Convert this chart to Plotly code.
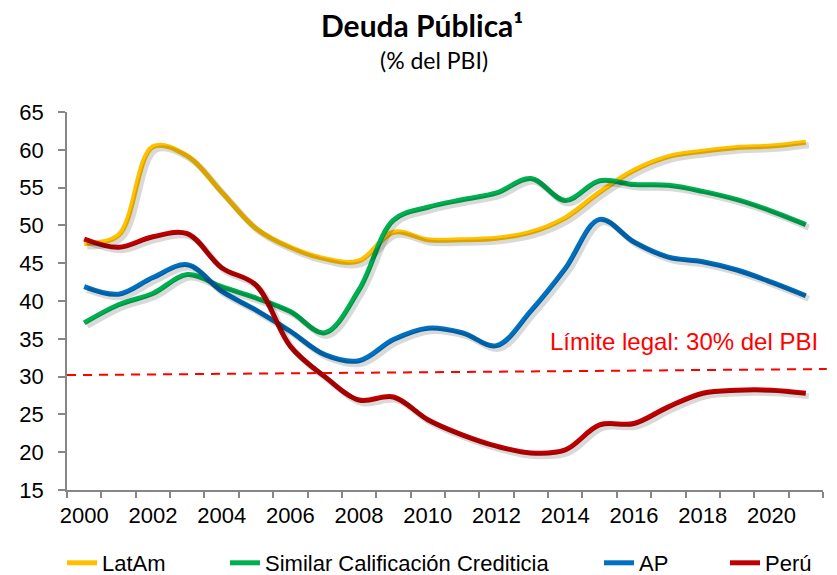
import plotly.graph_objects as go

years = list(range(2000, 2022))
latam = [47.6, 48.7, 60.4, 59.2, 54.4, 49.6, 47.1, 45.6, 45.3, 49.1, 48.1, 48.1, 48.3, 49.1, 51.0, 54.4, 57.3, 59.1, 59.8, 60.3, 60.5, 61.0]
similar = [37.1, 39.5, 41.0, 43.5, 41.9, 40.4, 38.6, 35.8, 41.5, 50.7, 52.4, 53.4, 54.3, 56.2, 53.3, 55.9, 55.4, 55.3, 54.5, 53.4, 51.9, 50.1]
ap = [41.9, 40.9, 43.1, 44.8, 41.3, 38.8, 36.0, 32.9, 32.1, 34.9, 36.4, 35.8, 34.1, 38.7, 44.3, 50.8, 47.8, 45.8, 45.2, 44.1, 42.5, 40.7]
peru = [48.2, 47.1, 48.5, 48.9, 44.4, 42.1, 34.0, 30.0, 26.9, 27.3, 24.3, 22.3, 20.8, 19.9, 20.3, 23.6, 23.8, 26.0, 27.8, 28.2, 28.2, 27.8]

series_names = ["LatAm", "Similar Calificación Crediticia", "AP", "Perú"]
series_values = [latam, similar, ap, peru]
series_colors = ["#FFC000", "#00B050", "#0070C0", "#C00000"]

limit_start, limit_end = 30.2, 31.0
limit_label = "Límite legal: 30% del PBI"
x_ticks = list(range(2000, 2021, 2))
y_ticks = list(range(15, 66, 5))

FONT = "Liberation Sans, Arial, sans-serif"
W, H = 829, 567  # page body adds an 8px offset

fig = go.Figure()

# soft shadows on an offset overlay axis pair
for vals in series_values:
    fig.add_trace(go.Scatter(x=years, y=vals, mode="lines", xaxis="x2", yaxis="y2",
                             line=dict(color="rgba(0,0,0,0.15)", width=6, shape="spline", smoothing=1.0),
                             showlegend=False, hoverinfo="skip"))

legend_ids = ["legend", "legend2", "legend3", "legend4"]
for name, vals, col, lg in zip(series_names, series_values, series_colors, legend_ids):
    fig.add_trace(go.Scatter(x=years, y=vals, mode="lines", name=name, legend=lg,
                             line=dict(color=col, width=5, shape="spline", smoothing=1.0)))

fig.add_shape(type="line", xref="paper", yref="y", x0=0, x1=1.005, y0=limit_start, y1=limit_end,
              line=dict(color="#FF0000", width=2, dash="9px,7px"))

fig.add_annotation(text=limit_label, xref="paper", yref="y", x=0.996, y=34.6,
                   xanchor="right", yanchor="middle", showarrow=False,
                   font=dict(family=FONT, size=24, color="#FF0000"))

fig.add_annotation(text="<b>Deuda Pública¹</b>", xref="paper", yref="paper",
                   x=0.469, xanchor="center", y=1.0, yanchor="middle", yshift=87, showarrow=False,
                   font=dict(family="Lato, sans-serif", size=30, color="#000000"))
fig.add_annotation(text="(% del PBI)", xref="paper", yref="paper",
                   x=0.486, xanchor="center", y=1.0, yanchor="middle", yshift=52, showarrow=False,
                   font=dict(family="Lato, sans-serif", size=23, color="#000000"))

xr = [1999.5, 2021.5]
yr = [15, 65]
px_per_year = 756 / 22.0
px_per_unit = 378 / 50.0
sx = 3 / px_per_year
sy = 3 / px_per_unit

legend_text_starts = [106, 269, 643, 769]
legend_common = dict(orientation="h", xanchor="left", xref="container", y=-(563 - 490) / 378.0,
                     yanchor="middle", yref="paper", font=dict(family=FONT, size=22, color="#000000"),
                     bgcolor="rgba(0,0,0,0)")
legend_layouts = {}
for lg, tx in zip(legend_ids, legend_text_starts):
    legend_layouts[lg] = dict(legend_common, x=(tx - 44 - 8) / W)

fig.update_layout(
    width=W, height=H, autosize=False,
    margin=dict(l=59, r=14, t=104, b=85, autoexpand=False),
    paper_bgcolor="white", plot_bgcolor="white",
    font=dict(family=FONT, size=22, color="#000000"),
    showlegend=True,
    xaxis=dict(range=xr, tickmode="array", tickvals=x_ticks, ticktext=[str(v) for v in x_ticks],
               ticks="", showgrid=False, zeroline=False, showline=True, linecolor="#868686", linewidth=1.5,
               tickfont=dict(size=22), tickangle=0, ticklabelstandoff=5,
               minor=dict(tickmode="array", tickvals=[1999.5 + i for i in range(23)], ticks="outside",
                          ticklen=6, tickcolor="#868686", tickwidth=1.5, showgrid=False)),
    yaxis=dict(range=yr, tickmode="array", tickvals=y_ticks, ticks="outside", ticklen=7,
               tickcolor="#868686", tickwidth=1.5, showgrid=False, zeroline=False,
               showline=True, linecolor="#868686", linewidth=1.5, tickfont=dict(size=22), ticklabelstandoff=10),
    xaxis2=dict(range=[xr[0] - sx, xr[1] - sx], overlaying="x", visible=False),
    yaxis2=dict(range=[yr[0] + sy, yr[1] + sy], overlaying="y", visible=False),
    **legend_layouts,
)

fig.write_html("out.html")
